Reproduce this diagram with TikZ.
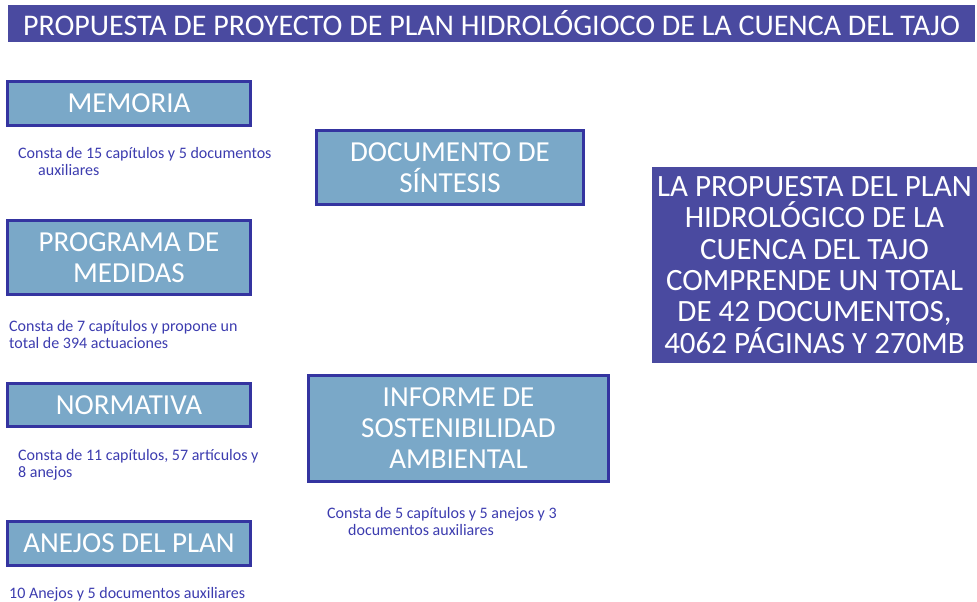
\documentclass[tikz,border=0pt]{standalone}
\usepackage{fontspec}
\setmainfont{Carlito}
\definecolor{boxfill}{RGB}{122,168,200}
\definecolor{boxline}{RGB}{52,52,160}
\definecolor{darkfill}{RGB}{74,74,160}
\definecolor{notecol}{RGB}{60,60,175}
\begin{document}
\begin{tikzpicture}[x=1pt,y=-1pt,
  box/.style={draw=boxline, line width=2.5pt, fill=boxfill, text=white, align=center,
    inner sep=0pt, font=\fontsize{29}{31}\selectfont},
  darkbox/.style={fill=darkfill, text=white, align=center, inner sep=0pt},
  note/.style={text=notecol, anchor=base west, align=left, inner sep=0pt,
    font=\fontsize{16}{17}\selectfont}]
\useasboundingbox (0,0) rectangle (977,602);
\node[darkbox, minimum width=967pt, minimum height=37pt, font=\fontsize{30}{32}\selectfont]
  (title) at (491.5,23.5) {PROPUESTA DE PROYECTO DE PLAN HIDROLÓGIOCO DE LA CUENCA DEL TAJO};
\node[box, minimum width=243pt, minimum height=44pt] (memoria) at (129,103.5) {MEMORIA};
\node[box, minimum width=243pt, minimum height=74pt] (programa) at (129,257.5) {PROGRAMA DE\\MEDIDAS};
\node[box, minimum width=243pt, minimum height=43pt] (normativa) at (129,405) {NORMATIVA};
\node[box, minimum width=243pt, minimum height=44pt] (anejos) at (129,543.5) {ANEJOS DEL PLAN};
\node[box, minimum width=267pt, minimum height=74pt] (sintesis) at (450,167.5) {DOCUMENTO DE\\SÍNTESIS};
\node[box, minimum width=300pt, minimum height=106pt] (informe) at (458.5,428.5) {INFORME DE\\SOSTENIBILIDAD\\AMBIENTAL};
\node[darkbox, minimum width=325pt, minimum height=196pt, font=\fontsize{31}{31.3}\selectfont]
  (total) at (814.5,265) {LA PROPUESTA DEL PLAN\\HIDROLÓGICO DE LA\\CUENCA DEL TAJO\\COMPRENDE UN TOTAL\\DE 42 DOCUMENTOS,\\4062 PÁGINAS Y 270MB};
\node[note] (nmemoria) at (18,175) {Consta de 15 capítulos y 5 documentos\\\hspace*{20pt}auxiliares};
\node[note] (nprograma) at (9,348) {Consta de 7 capítulos y propone un\\total de 394 actuaciones};
\node[note] (nnormativa) at (18,477) {Consta de 11 capítulos, 57 artículos y\\8 anejos};
\node[note] (nanejos) at (9,598) {10 Anejos y 5 documentos auxiliares};
\node[note] (ninforme) at (327,535) {Consta de 5 capítulos y 5 anejos y 3\\\hspace*{21pt}documentos auxiliares};
\end{tikzpicture}
\end{document}
